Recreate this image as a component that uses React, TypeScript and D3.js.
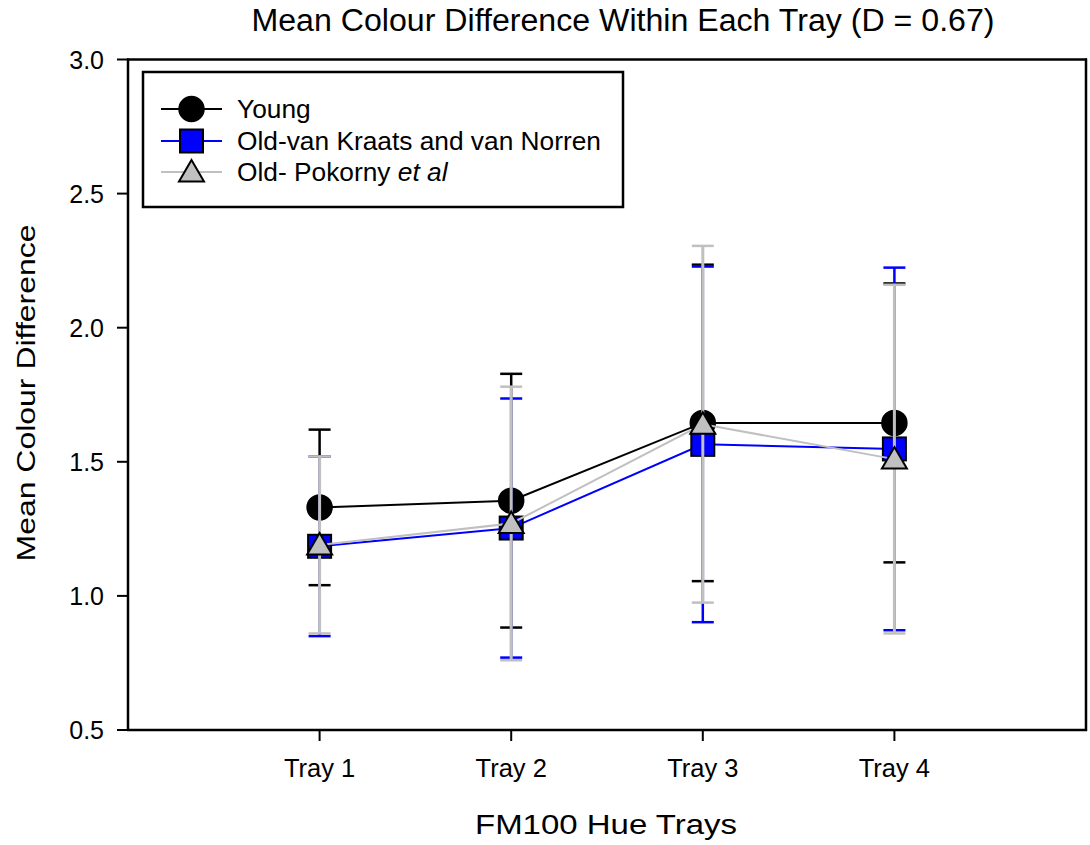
import React from "react";
import * as d3 from "d3";

const trays = ["Tray 1", "Tray 2", "Tray 3", "Tray 4"];
const yTicks = [0.5, 1.0, 1.5, 2.0, 2.5, 3.0];

const youngMean = [1.33, 1.355, 1.645, 1.645];
const youngSD = [0.29, 0.473, 0.59, 0.52];
const blueMean = [1.185, 1.253, 1.565, 1.548];
const blueSD = [0.335, 0.483, 0.663, 0.676];
const grayMean = [1.19, 1.27, 1.64, 1.51];
const graySD = [0.33, 0.51, 0.665, 0.65];

const seriesNames = ["Young", "Old-van Kraats and van Norren", "Old- Pokorny"];

const W = 1090;
const H = 845;
const FONT = "'Liberation Sans', Arial, sans-serif";

export default function App() {
  const x = d3.scaleLinear().domain([0, 5]).range([128, 1086]);
  const y = d3.scaleLinear().domain([0.5, 3.0]).range([730, 59.5]);

  const series = [
    { mean: youngMean, sd: youngSD, line: "#000000", fill: "#000000", err: "#000000", shape: "circle", ew: 2.5 },
    { mean: blueMean, sd: blueSD, line: "#0000ff", fill: "#0000ff", err: "#0000ff", shape: "square", ew: 2.5 },
    { mean: grayMean, sd: graySD, line: "#c0c0c0", fill: "#c0c0c0", err: "#c0c0c0", shape: "triangle", ew: 3 },
  ];

  const lineGen = d3
    .line<number>()
    .x((_, i) => x(i + 1))
    .y((d) => y(d));

  const marker = (shape: string, cx: number, cy: number, fill: string, key: string) => {
    if (shape === "circle")
      return <circle key={key} cx={cx} cy={cy} r={12.5} fill={fill} stroke="#000" strokeWidth={1.5} />;
    if (shape === "square")
      return (
        <rect key={key} x={cx - 11.5} y={cy - 11.5} width={23} height={23} fill={fill} stroke="#000" strokeWidth={2} />
      );
    const p = `M${cx},${cy - 12}L${cx + 12.5},${cy + 9.5}L${cx - 12.5},${cy + 9.5}Z`;
    return <path key={key} d={p} fill={fill} stroke="#000" strokeWidth={2} strokeLinejoin="miter" />;
  };

  const capW = 11;

  const legendRows = [109, 141, 172];

  return (
    <svg
      width={W}
      height={H}
      style={{ position: "absolute", left: 0, top: 0, background: "#fff" }}
      fontFamily={FONT}
    >
      <rect x={0} y={0} width={W} height={H} fill="#fff" />
      {/* Title */}
      <text
        x={623}
        y={31}
        fontSize={31}
        textAnchor="middle"
        fill="#000"
        textLength={743}
        lengthAdjust="spacingAndGlyphs"
      >
        Mean Colour Difference Within Each Tray (D = 0.67)
      </text>

      {/* frame */}
      <line x1={127} x2={1087} y1={y(3.0)} y2={y(3.0)} stroke="#000" strokeWidth={2.5} />
      <line x1={1086} x2={1086} y1={y(3.0) - 1} y2={y(0.5) + 1} stroke="#000" strokeWidth={2.5} />
      <line x1={x(0)} x2={x(0)} y1={y(3.0) - 1} y2={y(0.5) + 1} stroke="#000" strokeWidth={2.5} />
      <line x1={x(0) - 1} x2={1087} y1={y(0.5)} y2={y(0.5)} stroke="#000" strokeWidth={2.5} />

      {/* y ticks */}
      {yTicks.map((t) => (
        <g key={`yt${t}`}>
          <line x1={x(0) - 11} x2={x(0)} y1={y(t)} y2={y(t)} stroke="#000" strokeWidth={2} />
          <text x={104} y={y(t)} dy="0.36em" fontSize={25} textAnchor="end" fill="#000">
            {t.toFixed(1)}
          </text>
        </g>
      ))}

      {/* x ticks */}
      {trays.map((t, i) => (
        <g key={`xt${t}`}>
          <line x1={x(i + 1)} x2={x(i + 1)} y1={y(0.5)} y2={y(0.5) + 11} stroke="#000" strokeWidth={2} />
          <text x={x(i + 1)} y={777} fontSize={25.5} textAnchor="middle" fill="#000">
            {t}
          </text>
        </g>
      ))}

      {/* axis titles */}
      <text
        x={606}
        y={834}
        fontSize={27}
        textAnchor="middle"
        fill="#000"
        textLength={262}
        lengthAdjust="spacingAndGlyphs"
      >
        FM100 Hue Trays
      </text>
      <text
        transform={`translate(35,${393}) rotate(-90)`}
        fontSize={26}
        textAnchor="middle"
        fill="#000"
        textLength={337}
        lengthAdjust="spacingAndGlyphs"
      >
        Mean Colour Difference
      </text>

      {/* series */}
      {series.map((s, si) => (
        <g key={`s${si}`}>
          <path d={lineGen(s.mean) || ""} fill="none" stroke={s.line} strokeWidth={2} />
          {s.mean.map((m, i) => {
            const cx = x(i + 1);
            const top = y(m + s.sd[i]);
            const bot = y(m - s.sd[i]);
            return (
              <g key={`e${si}-${i}`}>
                <line x1={cx} x2={cx} y1={top} y2={bot} stroke={s.err} strokeWidth={s.ew} />
                <line x1={cx - capW} x2={cx + capW} y1={top} y2={top} stroke={s.err} strokeWidth={2.5} />
                <line x1={cx - capW} x2={cx + capW} y1={bot} y2={bot} stroke={s.err} strokeWidth={2.5} />
              </g>
            );
          })}
          {s.mean.map((m, i) => marker(s.shape, x(i + 1), y(m), s.fill, `m${si}-${i}`))}
        </g>
      ))}

      {/* legend */}
      <rect x={143} y={72} width={480} height={135} fill="#fff" stroke="#000" strokeWidth={2.5} />
      {series.map((s, si) => (
        <g key={`lg${si}`}>
          <line x1={161} x2={222} y1={legendRows[si]} y2={legendRows[si]} stroke={s.line} strokeWidth={2} />
          {marker(s.shape, 191.5, legendRows[si], s.fill, `lm${si}`)}
          <text x={237} y={legendRows[si]} dy="0.36em" fontSize={26.3} fill="#000">
            {seriesNames[si]}
            {si === 2 ? <tspan fontStyle="italic"> et al</tspan> : null}
          </text>
        </g>
      ))}
    </svg>
  );
}
